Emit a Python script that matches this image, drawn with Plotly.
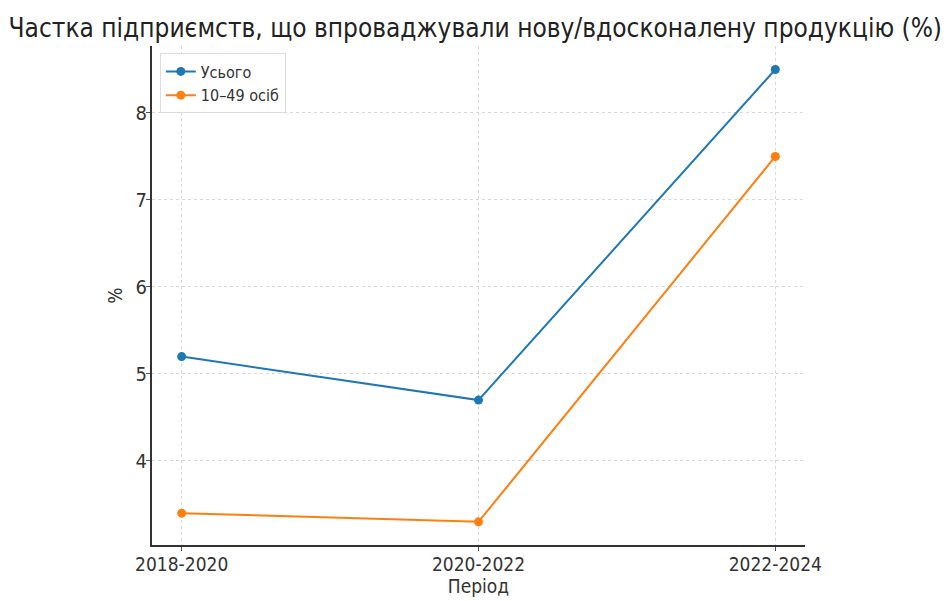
import plotly.graph_objects as go

periods = ["2018-2020", "2020-2022", "2022-2024"]
total = [5.2, 4.7, 8.5]
small = [3.4, 3.3, 7.5]
y_ticks = [4, 5, 6, 7, 8]

FONT = "DejaVu Sans Condensed, DejaVu Sans, sans-serif"

fig = go.Figure()
fig.add_trace(go.Scatter(x=list(range(len(periods))), y=total, mode="lines+markers", name="Усього",
                         line=dict(color="#1f77b4", width=2), marker=dict(size=9, color="#1f77b4")))
fig.add_trace(go.Scatter(x=list(range(len(periods))), y=small, mode="lines+markers", name="10–49 осіб",
                         line=dict(color="#ff7f0e", width=2), marker=dict(size=9, color="#ff7f0e")))

fig.update_layout(
    width=950, height=601,
    margin=dict(l=152, r=145, t=46, b=56),
    paper_bgcolor="white", plot_bgcolor="white",
    font=dict(family=FONT, color="#333333"),
    title=dict(text="Частка підприємств, що впроваджували нову/вдосконалену продукцію (%)",
               x=0.009, xanchor="left", y=0.953, yanchor="middle",
               font=dict(size=26, family=FONT, color="#222222")),
    showlegend=True,
    legend=dict(x=0.012, y=0.985, xanchor="left", yanchor="top",
                bgcolor="rgba(255,255,255,0.9)", bordercolor="#dddddd", borderwidth=1,
                tracegroupgap=4,
                font=dict(size=16, family=FONT, color="#333333")),
    xaxis=dict(range=[-0.1, 2.1], tickmode="array", tickvals=list(range(len(periods))), ticktext=periods,
               showgrid=True, gridcolor="#d9d9d9", griddash="3px,3px", gridwidth=1,
               showline=True, linecolor="#333333", linewidth=2,
               ticks="outside", ticklen=4, tickcolor="#555555",
               tickfont=dict(size=19, family=FONT, color="#333333"),
               ticklabelstandoff=-3,
               title=dict(text="Період", font=dict(size=19, family=FONT, color="#333333"), standoff=6),
               zeroline=False, automargin=False),
    yaxis=dict(range=[3.034, 8.77], tickmode="array", tickvals=y_ticks,
               showgrid=True, gridcolor="#d9d9d9", griddash="3px,3px", gridwidth=1,
               showline=True, linecolor="#333333", linewidth=2,
               ticks="outside", ticklen=4, tickcolor="#555555",
               tickfont=dict(size=20, family=FONT, color="#333333"),
               ticklabelstandoff=-5,
               title=dict(text="%", font=dict(size=19, family=FONT, color="#333333"), standoff=8),
               zeroline=False, automargin=False),
)

fig.write_html("out.html")
